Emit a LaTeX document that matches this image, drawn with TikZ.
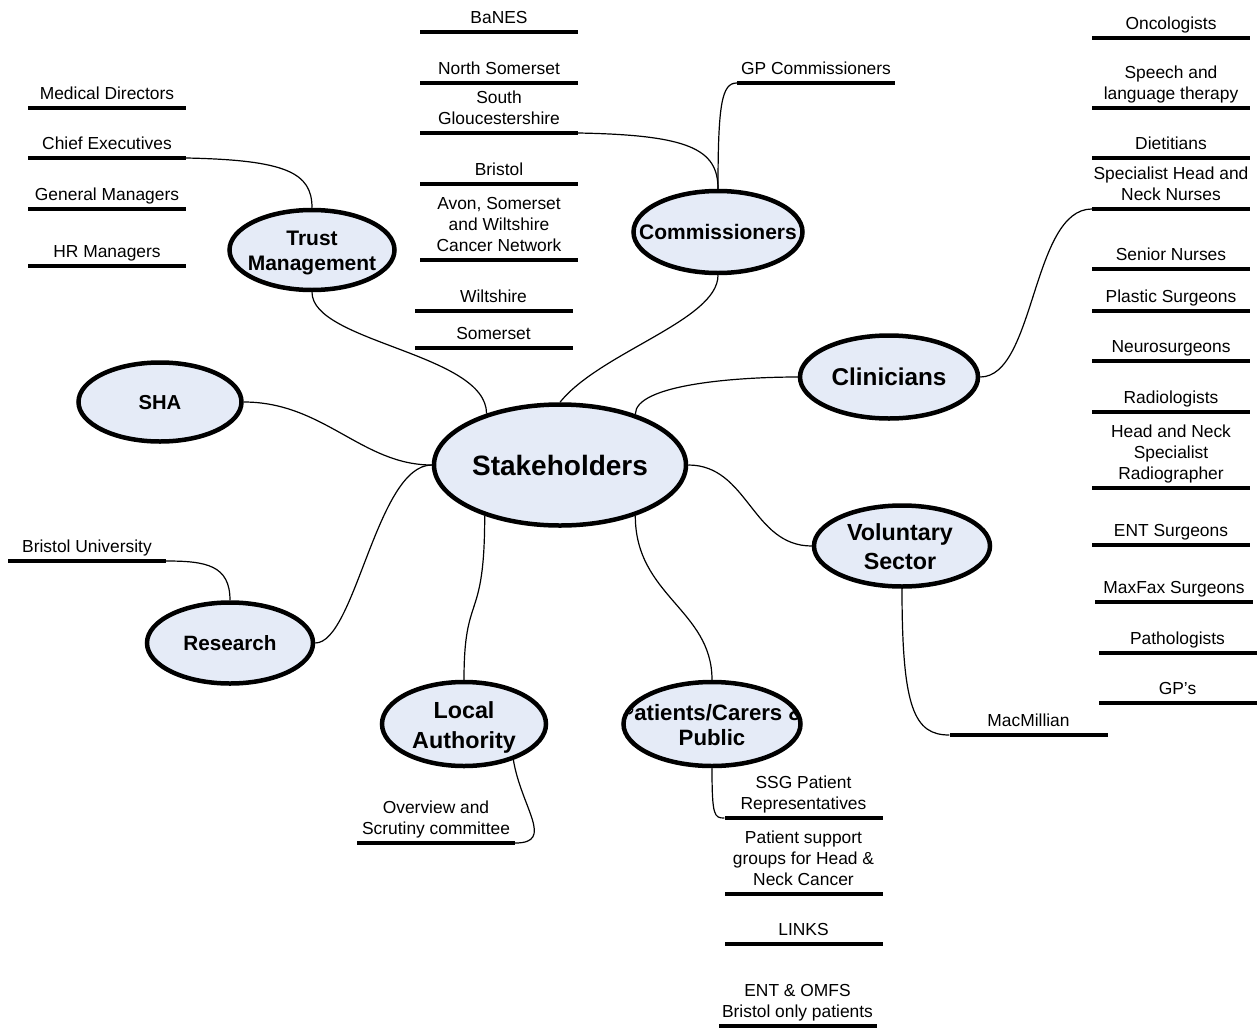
\documentclass[tikz,border=0pt]{standalone}
\usepackage{fontspec}
\setmainfont{Liberation Sans}
\usetikzlibrary{shapes.geometric}
\definecolor{bubfill}{RGB}{229,235,247}
\newcommand\tagitem[3]{\node[tag] (#1) at #2 {};\node[lab] (#1T) at ([yshift=5.5pt]#1.north) {#3};}
\begin{document}
\begin{tikzpicture}[x=1pt,y=-1pt,
  bub/.style={ellipse, draw=black, line width=4.5pt, fill=bubfill, inner sep=0pt},
  bubtxt/.style={align=center, anchor=south, inner sep=0pt, text depth=0pt},
  tag/.style={fill=black, inner sep=0pt, minimum height=4.5pt, minimum width=158pt},
  lab/.style={font=\fontsize{17.4}{21}\selectfont, align=center, anchor=south, inner sep=0pt, text depth=0pt},
  conn/.style={line width=1.2pt}]
\useasboundingbox (0,0) rectangle (1258,1028);

% bubbles
\node[bub, minimum width=252pt, minimum height=121pt] (stk) at (560,465) {};
\node[bub, minimum width=165pt, minimum height=80pt] (trust) at (312,250) {};
\node[bub, minimum width=169pt, minimum height=82pt] (comm) at (718,232) {};
\node[bub, minimum width=178pt, minimum height=83pt] (clin) at (889,377) {};
\node[bub, minimum width=163pt, minimum height=79pt] (sha) at (160,402) {};
\node[bub, minimum width=166pt, minimum height=81pt] (res) at (230,643) {};
\node[bub, minimum width=164pt, minimum height=84pt] (loc) at (464,724) {};
\node[bub, minimum width=177pt, minimum height=84pt] (pat) at (712,724) {};
\node[bub, minimum width=176pt, minimum height=81pt] (vol) at (902,546) {};

\node[bubtxt, font=\bfseries\fontsize{28}{33}\selectfont] (stkT) at (560,476) {Stakeholders};
\node[bubtxt, font=\bfseries\fontsize{21}{25}\selectfont] (trustT) at (312,270.5) {Trust\\Management};
\node[bubtxt, font=\bfseries\fontsize{21}{25}\selectfont] (commT) at (718,240) {Commissioners};
\node[bubtxt, font=\bfseries\fontsize{24.3}{29}\selectfont] (clinT) at (889,386) {Clinicians};
\node[bubtxt, font=\bfseries\fontsize{20.2}{24}\selectfont] (shaT) at (160,410) {SHA};
\node[bubtxt, font=\bfseries\fontsize{20.7}{25}\selectfont] (resT) at (230,651) {Research};
\node[bubtxt, font=\bfseries\fontsize{23.3}{29.5}\selectfont] (locT) at (464,748.5) {Local\\Authority};
\node[bubtxt, font=\bfseries\fontsize{23.3}{29}\selectfont] (volT) at (900,570) {Voluntary\\Sector};
\begin{scope}
\clip (pat.center) ellipse [x radius=86, y radius=40];
\node[bubtxt, font=\bfseries\fontsize{22.2}{25.5}\selectfont] (patT) at (712,746) {Patients/Carers \&\\Public};
\end{scope}

% Trust management items
\tagitem{md}{(107,108)}{Medical Directors}
\tagitem{ce}{(107,158)}{Chief Executives}
\tagitem{gm}{(107,209)}{General Managers}
\tagitem{hr}{(107,266)}{HR Managers}

% Commissioner items
\tagitem{banes}{(499,32)}{BaNES}
\tagitem{ns}{(499,83)}{North Somerset}
\tagitem{sg}{(499,133)}{South\\Gloucestershire}
\tagitem{bri}{(499,184)}{Bristol}
\tagitem{asw}{(499,260)}{Avon, Somerset\\and Wiltshire\\Cancer Network}
\tagitem{wil}{(493.5,311)}{Wiltshire}
\tagitem{som}{(493.5,348)}{Somerset}
\tagitem{gp}{(816,83)}{GP Commissioners}

% Clinician items
\tagitem{onc}{(1171,38)}{Oncologists}
\tagitem{slt}{(1171,108)}{Speech and\\language therapy}
\tagitem{die}{(1171,158)}{Dietitians}
\tagitem{shn}{(1171,209)}{Specialist Head and\\Neck Nurses}
\tagitem{sen}{(1171,269)}{Senior Nurses}
\tagitem{pla}{(1171,311)}{Plastic Surgeons}
\tagitem{neu}{(1171,361)}{Neurosurgeons}
\tagitem{rad}{(1171,412)}{Radiologists}
\tagitem{hns}{(1171,488)}{Head and Neck\\Specialist\\Radiographer}
\tagitem{ent}{(1171,545)}{ENT Surgeons}
\tagitem{max}{(1174,602)}{MaxFax Surgeons}
\tagitem{path}{(1177.5,653)}{Pathologists}
\tagitem{gps}{(1177.5,703)}{GP’s}

% Voluntary
\tagitem{mac}{(1028.5,735)}{MacMillian}

% Patients
\tagitem{ssg}{(803.5,818)}{SSG Patient\\Representatives}
\tagitem{psg}{(803.5,894)}{Patient support\\groups for Head \&\\Neck Cancer}
\tagitem{links}{(803.5,944)}{LINKS}
\tagitem{omfs}{(797.5,1026)}{ENT \& OMFS\\Bristol only patients}

% Local authority
\tagitem{ov}{(436,843)}{Overview and\\Scrutiny committee}

% Research
\tagitem{bu}{(87,561)}{Bristol University}

% connectors
\draw[conn] (ce.east) .. controls +(100,2) and +(0,-35) .. (trust.north);
\draw[conn] (trust.south) .. controls +(0,50) and +(0,-60) .. (stk.145);
\draw[conn] (comm.north) .. controls +(0,-85) and +(-15,0) .. (gp.west);
\draw[conn] (sg.east) .. controls +(110,2) and +(0,-40) .. (comm.north);
\draw[conn] (comm.south) .. controls +(0,45) and +(40,-50) .. (stk.north);
\draw[conn] (stk.34) .. controls +(0,-30) and +(-60,0) .. (clin.west);
\draw[conn] (clin.east) .. controls +(55,0) and +(-60,0) .. (shn.west);
\draw[conn] (stk.east) .. controls +(60,0) and +(-60,0) .. (vol.west);
\draw[conn] (vol.south) .. controls +(0,120) and +(-35,0) .. (mac.west);
\draw[conn] (stk.-34) .. controls +(0,80) and +(0,-70) .. (pat.north);
\draw[conn] (stk.-146) .. controls +(0,110) and +(0,-90) .. (loc.north);
\draw[conn] (loc.-36) .. controls +(8,48) and +(40,0) .. (ov.east);
\draw[conn] (pat.south) .. controls +(0,48) and +(-10,0) .. (ssg.west);
\draw[conn] (res.north) .. controls +(0,-35) and +(40,0) .. (bu.east);
\draw[conn] (res.east) .. controls +(40,0) and +(-55,0) .. (stk.west);
\draw[conn] (sha.east) .. controls +(80,0) and +(-70,0) .. (stk.west);
\end{tikzpicture}
\end{document}
